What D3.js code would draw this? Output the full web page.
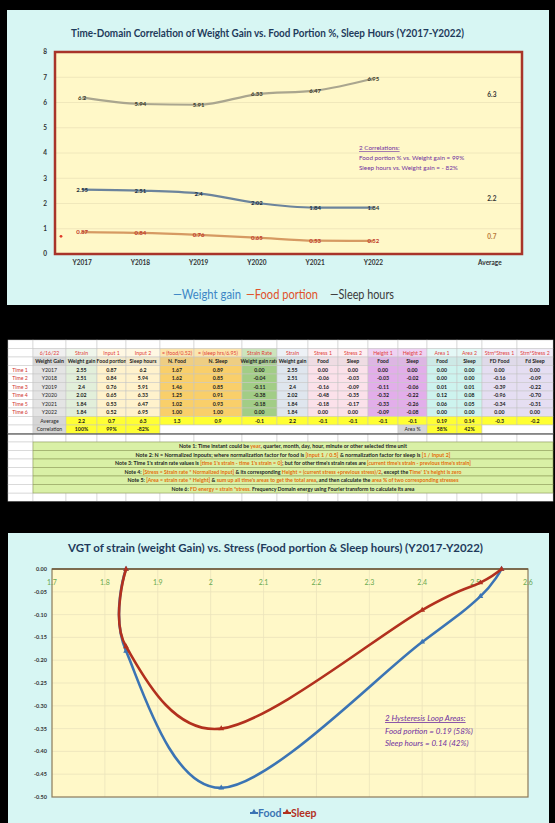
<!DOCTYPE html>
<html>
<head>
<meta charset="utf-8">
<script src="https://cdn.jsdelivr.net/npm/d3@7"></script>
<style>
  body { margin:0; background:#000; }
  svg text { font-family: Lato, "Open Sans", sans-serif; }
</style>
</head>
<body>
<svg id="chart" width="555" height="823"></svg>
<script>
// ---- data ----
var years = ["Y2017","Y2018","Y2019","Y2020","Y2021","Y2022"];
var weightGain = [2.55, 2.51, 2.4, 2.02, 1.84, 1.84];
var foodPortion = [0.87, 0.84, 0.76, 0.65, 0.53, 0.52];
var sleepHours = [6.2, 5.94, 5.91, 6.33, 6.47, 6.95];
var avgSleep = 6.3, avgWeight = 2.2, avgFood = 0.7;
var topTicks = [0,1,2,3,4,5,6,7,8];

var nFood = [1.67, 1.62, 1.46, 1.25, 1.02, 1.00];
var nSleep = [0.89, 0.85, 0.85, 0.91, 0.93, 1.00];
var strainRate = [0.00, -0.04, -0.11, -0.38, -0.18, 0.00];
var stressFood = [0.00, -0.06, -0.16, -0.48, -0.18, 0.00];
var stressSleep = [0.00, -0.03, -0.09, -0.35, -0.17, 0.00];
var heightFood = [0.00, -0.03, -0.11, -0.32, -0.33, -0.09];
var heightSleep = [0.00, -0.02, -0.06, -0.22, -0.26, -0.08];
var areaFood = [0.00, 0.00, 0.01, 0.12, 0.06, 0.00];
var areaSleep = [0.00, 0.00, 0.01, 0.08, 0.05, 0.00];
var fdFood = [0.00, -0.16, -0.39, -0.96, -0.34, 0.00];
var fdSleep = [0.00, -0.09, -0.22, -0.70, -0.31, 0.00];

var head1 = ["6/16/22","Strain","Input 1","Input 2","= (food/0.52)","= (sleep hrs/6.95)","Strain Rate","Strain","Stress 1","Stress 2","Height 1","Height 2","Area 1","Area 2","Strn*Stress 1","Strn*Stress 2"];
var head2 = ["Weight Gain","Weight gain","Food portion","Sleep hours","N. Food","N. Sleep","Weight gain rate","Weight gain","Food","Sleep","Food","Sleep","Food","Sleep","FD Food","Fd Sleep"];
var timeLabels = ["Time 1","Time 2","Time 3","Time 4","Time 5","Time 6"];
var avgRow = ["2.2","0.7","6.3","1.3","0.9","-0.1","2.2","-0.1","-0.1","-0.1","-0.1","0.19","0.14","-0.3","-0.2"];
var corrRow = ["100%","99%","-82%"];
var areaPct = ["58%","42%"];

var notes = [
  [["Note 1:  Time instant could be ",0],["year",1],[", quarter, month, day, hour, minute or other selected time unit",0]],
  [["Note 2:   N = Normalized inpouts;  where normalization factor for food  is ",0],["[Input 1 / 0.5]",1],[" & normalization factor for sleep  is ",0],["[1 / Input 2]",1]],
  [["Note 3:  Time 1's strain rate values is ",0],["[time 1's strain - time 1's strain = 0]",1],[";  but for other time's strain rates are ",0],["[current time's strain - previous time's strain]",1]],
  [["Note 4:  ",0],["[Stress = Strain rate * Normalized input]",1],[" & its corresponding ",0],["Height = (current stress +previous stress)/2",1],[", except the ",0],["Time' 1's height is zero",1]],
  [["Note 5:  ",0],["[Area = strain rate * Height]",1],[" & ",0],["sum up all time's areas to get the total area",1],[",  and then calculate the ",0],["area % of two corresponding stresses",1]],
  [["Note 6:  ",0],["FD energy = strain *stress.",1],["  Frequency Domain energy using Fourier transform to calculate its area",0]]
];

var xTicksBot = [1.7,1.8,1.9,2,2.1,2.2,2.3,2.4,2.5,2.6];
var yTicksBot = [0,-0.05,-0.10,-0.15,-0.20,-0.25,-0.30,-0.35,-0.40,-0.45,-0.50];

// ---- layout ----
var svg = d3.select("#chart");
svg.append("rect").attr("width",555).attr("height",823).attr("fill","#000");

// ================= top chart =================
svg.append("rect").attr("x",7).attr("y",10).attr("width",542).attr("height",295).attr("fill","#d7f6f3");

svg.append("text").attr("x",71).attr("y",37)
  .attr("textLength",393).attr("lengthAdjust","spacingAndGlyphs")
  .attr("font-size",10.5).attr("font-weight","bold").attr("fill","#1f3b5c")
  .text("Time-Domain Correlation of Weight Gain vs. Food Portion %, Sleep Hours  (Y2017-Y2022)");

var xTop = d3.scalePoint().domain(years.concat([" ","Average"])).range([53,519]).padding(0.5);
var yTop = d3.scaleLinear().domain([0,8]).range([254,52]);

svg.append("rect").attr("x",55).attr("y",yTop(8)).attr("width",467).attr("height",yTop(0)-yTop(8))
  .attr("fill","#fff8c8");

svg.selectAll(".tgrid").data(topTicks.slice(1,-1)).enter().append("line")
  .attr("x1",56).attr("x2",521).attr("y1",function(d){return yTop(d);}).attr("y2",function(d){return yTop(d);})
  .attr("stroke","#ece3b8").attr("stroke-width",0.8);

svg.append("rect").attr("x",55).attr("y",yTop(8)).attr("width",467).attr("height",yTop(0)-yTop(8))
  .attr("fill","none").attr("stroke","#a8342a").attr("stroke-width",2.5);

svg.selectAll(".tylab").data(topTicks).enter().append("text")
  .attr("x",47).attr("y",function(d){return yTop(d);}).attr("dy","0.35em")
  .attr("text-anchor","end").attr("font-size",6.5).attr("font-weight","bold").attr("fill","#333")
  .text(function(d){return d;});

svg.selectAll(".txlab").data(years.concat(["Average"])).enter().append("text")
  .attr("x",function(d){return xTop(d);}).attr("y",265)
  .attr("text-anchor","middle").attr("font-size",6.5).attr("font-weight","bold").attr("fill","#333")
  .text(function(d){return d;});

var topSeries = [
  {vals: sleepHours, line:"#aaa68f", lab:"#3a3a2a"},
  {vals: weightGain, line:"#6c849c", lab:"#1f3040"},
  {vals: foodPortion, line:"#d69a62", lab:"#c0392b"}
];
var topLine = d3.line().x(function(d,i){return xTop(years[i]);}).y(function(d){return yTop(d);})
  .curve(d3.curveMonotoneX);

topSeries.forEach(function(s){
  svg.append("path").attr("d",topLine(s.vals)).attr("fill","none")
    .attr("stroke",s.line).attr("stroke-width",2.2);
  svg.selectAll(null).data(s.vals).enter().append("text")
    .attr("x",function(d,i){return xTop(years[i]);}).attr("y",function(d){return yTop(d);})
    .attr("dy","0.35em").attr("text-anchor","middle").attr("font-size",6).attr("font-weight","bold")
    .attr("fill",s.lab).text(function(d){return d;});
});

// averages shown at the right
[[avgSleep,"#333"],[avgWeight,"#333"],[avgFood,"#b9783a"]].forEach(function(a){
  svg.append("text").attr("x",xTop("Average")+2).attr("y",yTop(a[0])).attr("dy","0.35em")
    .attr("text-anchor","middle").attr("font-size",6.5).attr("font-weight","bold").attr("fill",a[1])
    .text(a[0]);
});
svg.append("circle").attr("cx",61).attr("cy",yTop(avgFood)).attr("r",1.4).attr("fill","#e03a2a");

var corrNote = svg.append("text").attr("font-size",6.3).attr("fill","#7030a0");
corrNote.append("tspan").attr("x",359).attr("y",150).attr("text-decoration","underline").text("2 Correlations:");
corrNote.append("tspan").attr("x",359).attr("y",160).text("Food portion % vs. Weight gain = 99%");
corrNote.append("tspan").attr("x",359).attr("y",169.5).text("Sleep hours vs. Weight gain = - 82%");

var topLegend = [["—Weight gain","#3d86c6",173,68],["—Food portion","#e0522b",246,72],["—Sleep hours","#3b3b3b",330,64]];
svg.selectAll(".tleg").data(topLegend).enter().append("text")
  .attr("x",function(d){return d[2];}).attr("y",299).attr("font-size",12.5)
  .attr("textLength",function(d){return d[3];}).attr("lengthAdjust","spacingAndGlyphs")
  .attr("fill",function(d){return d[1];}).text(function(d){return d[0];});

// ================= table =================
var colX = [8,33,66,97,126,160,194,242,277,308,338,368,398,427,457,482,517,553];
var colFill = ["#ffffff","#e4e4e4","#e2efda","#fff2cc","#fff2cc","#f9cf6a","#f9cf6a","#a2cd86","#dfe6ee",
  "#fbe1ea","#fbe1ea","#e2aeea","#e2aeea","#cdf3ee","#cdf3ee","#e5def2","#e5def2"];
var tTop = 340, rowH = 8.5;
var rowY = function(r){ return tTop + r*rowH; };

svg.append("rect").attr("x",8).attr("y",tTop).attr("width",545).attr("height",19*rowH).attr("fill","#fff");

function cell(c0, c1, r, fill, txt, color, weight){
  svg.append("rect").attr("x",colX[c0]).attr("y",rowY(r)).attr("width",colX[c1]-colX[c0]).attr("height",rowH)
    .attr("fill",fill).attr("stroke","#c4c4c4").attr("stroke-width",0.5);
  if (txt !== undefined && txt !== "") {
    svg.append("text").attr("x",(colX[c0]+colX[c1])/2).attr("y",rowY(r)+rowH/2).attr("dy","0.35em")
      .attr("text-anchor","middle").attr("font-size",5.2).attr("font-weight",weight||"bold")
      .attr("fill",color||"#222").text(txt);
  }
}
// blank grid rows
[0,11,18].forEach(function(r){ for (var c=0;c<17;c++) cell(c,c+1,r,"#fff"); });

// headers
cell(0,1,1,"#fff"); cell(0,1,2,"#fff");
head1.forEach(function(h,i){ cell(i+1,i+2,1,d3.interpolateRgb(colFill[i+1],"#fff")(0.45),h,"#e0403a","normal"); });
head2.forEach(function(h,i){ cell(i+1,i+2,2,i===0?"#d6d6d6":d3.interpolateRgb(colFill[i+1],"#ccc")(0.25),h,"#222","bold"); });

var tableCols = [years, weightGain, foodPortion, sleepHours, nFood, nSleep, strainRate, weightGain,
  stressFood, stressSleep, heightFood, heightSleep, areaFood, areaSleep, fdFood, fdSleep];
var fixed2 = [false,false,false,false,true,true,true,false,true,true,true,true,true,true,true,true];
timeLabels.forEach(function(t,r){
  cell(0,1,r+3,"#fff");
  svg.append("text").attr("x",20).attr("y",rowY(r+3)+rowH/2).attr("dy","0.35em")
    .attr("text-anchor","middle").attr("font-size",5.2).attr("fill","#d0342c").text(t);
  tableCols.forEach(function(col,c){
    var v = col[r];
    var s = fixed2[c] ? v.toFixed(2) : String(v);
    cell(c+1,c+2,r+3,colFill[c+1],s,"#222",c===0?"normal":"bold");
  });
});
// average row
cell(0,1,9,"#fff");
cell(1,2,9,"#d6d6d6","Average","#222","normal");
avgRow.forEach(function(v,i){ cell(i+2,i+3,9,"#ffff33",v); });
// correlation row
cell(0,1,10,"#fff");
cell(1,2,10,"#d6d6d6","Correlation","#222","normal");
corrRow.forEach(function(v,i){ cell(i+2,i+3,10,"#ffff33",v); });
cell(5,12,10,"#fff");
cell(12,13,10,"#d6d6d6","Area %","#222","normal");
areaPct.forEach(function(v,i){ cell(i+13,i+14,10,"#ffff33",v); });
cell(15,17,10,"#fff");
svg.append("line").attr("x1",8).attr("x2",553).attr("y1",rowY(11)+0.5).attr("y2",rowY(11)+0.5)
  .attr("stroke","#333").attr("stroke-width",1);

// notes
var noteW = [228,315,356,337,331,243];
notes.forEach(function(n,i){
  var r = 12+i;
  cell(0,1,r,"#fff");
  svg.append("rect").attr("x",colX[1]).attr("y",rowY(r)).attr("width",colX[17]-colX[1]).attr("height",rowH)
    .attr("fill","#d9f0a6").attr("stroke","#8f9f5a").attr("stroke-width",0.6);
  var t = svg.append("text").attr("x",(colX[1]+colX[17])/2).attr("y",rowY(r)+rowH/2).attr("dy","0.35em")
    .attr("text-anchor","middle").attr("font-size",5).attr("font-weight","bold")
    .attr("textLength",noteW[i]).attr("lengthAdjust","spacingAndGlyphs");
  n.forEach(function(seg){
    t.append("tspan").attr("fill",seg[1]?"#e46c0a":"#222").text(seg[0]);
  });
});
svg.append("line").attr("x1",8).attr("x2",553).attr("y1",rowY(19)).attr("y2",rowY(19))
  .attr("stroke","#555").attr("stroke-width",1);

// ================= bottom chart =================
svg.append("rect").attr("x",8).attr("y",533).attr("width",541).attr("height",300).attr("fill","#d7f6f3");

svg.append("text").attr("x",68).attr("y",552)
  .attr("textLength",415).attr("lengthAdjust","spacingAndGlyphs")
  .attr("font-size",11).attr("font-weight","bold").attr("fill","#1f3b5c")
  .text("VGT of strain (weight Gain) vs. Stress (Food portion & Sleep hours)  (Y2017-Y2022)");

var xBot = d3.scaleLinear().domain([1.7,2.6]).range([52,528]);
var yBot = d3.scaleLinear().domain([0,-0.5]).range([569,797]);

svg.append("rect").attr("x",xBot(1.7)).attr("y",yBot(0)).attr("width",xBot(2.6)-xBot(1.7))
  .attr("height",yBot(-0.5)-yBot(0)).attr("fill","#fff8c8");

svg.selectAll(".bhg").data(yTicksBot.slice(1,-1)).enter().append("line")
  .attr("x1",xBot(1.7)).attr("x2",xBot(2.6)).attr("y1",function(d){return yBot(d);}).attr("y2",function(d){return yBot(d);})
  .attr("stroke","#ebe3bb").attr("stroke-width",0.8);
svg.selectAll(".bvg").data(xTicksBot.slice(1,-1)).enter().append("line")
  .attr("y1",yBot(0)).attr("y2",yBot(-0.5)).attr("x1",function(d){return xBot(d);}).attr("x2",function(d){return xBot(d);})
  .attr("stroke","#ebe3bb").attr("stroke-width",0.8);

svg.append("rect").attr("x",xBot(1.7)).attr("y",yBot(0)).attr("width",xBot(2.6)-xBot(1.7))
  .attr("height",yBot(-0.5)-yBot(0)).attr("fill","none").attr("stroke","#8c7b5a").attr("stroke-width",1.2);
svg.append("line").attr("x1",xBot(1.7)).attr("x2",xBot(2.6)).attr("y1",yBot(0)).attr("y2",yBot(0))
  .attr("stroke","#6b5638").attr("stroke-width",1.6);

svg.selectAll(".bylab").data(yTicksBot).enter().append("text")
  .attr("x",47).attr("y",function(d){return yBot(d);}).attr("dy","0.35em")
  .attr("text-anchor","end").attr("font-size",5.5).attr("font-weight","bold").attr("fill","#333")
  .text(function(d){return d.toFixed(2);});

svg.selectAll(".bxlab").data(xTicksBot).enter().append("text")
  .attr("x",function(d){return xBot(d);}).attr("y",yBot(0)+14).attr("dy","0.35em")
  .attr("text-anchor","middle").attr("font-size",7).attr("fill","#6aa84f")
  .text(function(d){return d;});

var loop = d3.line().x(function(d){return xBot(d[0]);}).y(function(d){return yBot(d[1]);})
  .curve(d3.curveCardinal.tension(0));
var botSeries = [
  {stress: stressFood, color:"#3b74b4"},
  {stress: stressSleep, color:"#b2301e"}
];
botSeries.forEach(function(s){
  var pts = weightGain.map(function(w,i){return [w, s.stress[i]];});
  svg.append("path").attr("d",loop(pts)).attr("fill","none").attr("stroke",s.color).attr("stroke-width",2.6);
  svg.selectAll(null).data(pts).enter().append("path")
    .attr("d",d3.symbol().type(d3.symbolTriangle).size(14))
    .attr("transform",function(d){return "translate("+xBot(d[0])+","+yBot(d[1])+")";})
    .attr("fill",s.color);
});

var hyst = svg.append("text").attr("font-size",8).attr("font-style","italic").attr("fill","#7030a0");
hyst.append("tspan").attr("x",385).attr("y",721).attr("text-decoration","underline").text("2 Hysteresis Loop Areas:");
hyst.append("tspan").attr("x",385).attr("y",733.5).text("Food portion = 0.19 (58%)");
hyst.append("tspan").attr("x",385).attr("y",746).text("Sleep hours = 0.14 (42%)");

var botLegend = [["Food","#3b74b4",250],["Sleep","#b2301e",283]];
botLegend.forEach(function(l){
  svg.append("line").attr("x1",l[2]).attr("x2",l[2]+8).attr("y1",813).attr("y2",813)
    .attr("stroke",l[1]).attr("stroke-width",2);
  svg.append("path").attr("d",d3.symbol().type(d3.symbolTriangle).size(14))
    .attr("transform","translate("+(l[2]+4)+",812)").attr("fill",l[1]);
  svg.append("text").attr("x",l[2]+8).attr("y",817).attr("font-size",10.5).attr("font-weight","bold")
    .attr("fill",l[1]).text(l[0]);
});
</script>
</body>
</html>
